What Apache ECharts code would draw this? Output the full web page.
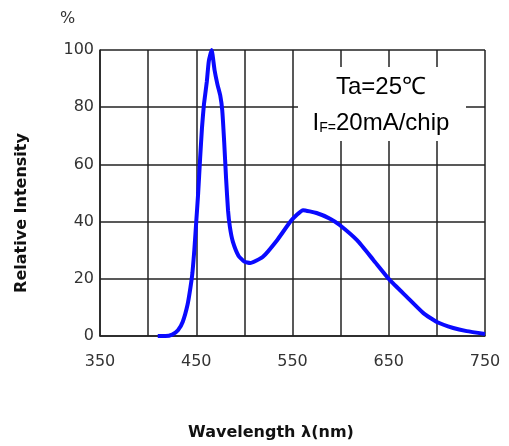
<!DOCTYPE html>
<html>
<head>
<meta charset="utf-8">
<script src="https://cdn.jsdelivr.net/npm/echarts@6/dist/echarts.min.js"></script>
<style>
  html, body { margin: 0; padding: 0; background: #fff; }
  #chart { width: 509px; height: 446px; }
</style>
</head>
<body>
<div id="chart"></div>
<script>
// wavelength (nm) and relative intensity (%)
var wavelength = [410, 418, 425, 431, 436, 441, 444, 446, 448, 450, 452, 454, 456, 458, 461, 463, 466, 469, 472, 475, 477, 479, 481, 483, 485, 488, 494, 500, 506, 519, 534, 549, 561, 575, 589, 599, 617, 634, 651, 669, 686, 700, 717, 731, 750];
var intensity  = [0, 0, 0.5, 2, 5, 11, 17, 22, 30, 40, 50, 62, 73, 81, 89, 96, 100, 93, 88, 84, 79, 68, 55, 44, 38, 33, 28, 26, 25.5, 27.6, 33.5, 40.5, 44, 43, 41, 38.8, 33.5, 26.6, 19.6, 13.6, 8, 4.9, 2.8, 1.7, 0.7];

var xTicks = [350, 450, 550, 650, 750];
var yTicks = [0, 20, 40, 60, 80, 100];

var points = wavelength.map(function (w, i) { return [w, intensity[i]]; });

var chart = echarts.init(document.getElementById('chart'));
var lineColor = '#222';
var tickFont = { fontFamily: 'DejaVu Sans', fontSize: 16, color: '#333' };

chart.setOption({
  animation: false,
  grid: { left: 100, right: 24, top: 50, bottom: 110 },
  xAxis: {
    type: 'value',
    min: 350,
    max: 750,
    interval: 50,
    axisLine: { show: true, lineStyle: { color: lineColor, width: 1.5 } },
    axisTick: { show: false },
    splitLine: { show: true, lineStyle: { color: lineColor, width: 1.5 } },
    axisLabel: Object.assign({
      margin: 18,
      formatter: function (v) { return xTicks.indexOf(v) >= 0 ? String(v) : ''; }
    }, tickFont)
  },
  yAxis: {
    type: 'value',
    min: 0,
    max: 100,
    interval: 20,
    axisLine: { show: true, lineStyle: { color: lineColor, width: 1.5 } },
    axisTick: { show: false },
    splitLine: { show: true, lineStyle: { color: lineColor, width: 1.5 } },
    axisLabel: Object.assign({
      margin: 6,
      formatter: function (v) { return yTicks.indexOf(v) >= 0 ? String(v) : ''; }
    }, tickFont)
  },
  series: [{
    type: 'line',
    data: points,
    smooth: 0.15,
    symbol: 'none',
    lineStyle: { color: '#0a0aff', width: 4 },
    z: 3
  }],
  graphic: [
    {
      type: 'text',
      left: 60,
      top: 11,
      style: { text: '%', fontFamily: 'DejaVu Sans', fontSize: 16, fill: '#333' }
    },
    {
      type: 'text',
      x: 22,
      y: 213,
      rotation: Math.PI / 2,
      style: {
        text: 'Relative Intensity',
        fontFamily: 'DejaVu Sans',
        fontWeight: 'bold',
        fontSize: 16,
        fill: '#111',
        align: 'center',
        verticalAlign: 'middle'
      }
    },
    {
      type: 'text',
      x: 271,
      y: 433,
      style: {
        text: 'Wavelength λ(nm)',
        fontFamily: 'DejaVu Sans',
        fontWeight: 'bold',
        fontSize: 16,
        fill: '#111',
        align: 'center',
        verticalAlign: 'middle'
      }
    },
    {
      type: 'rect',
      shape: { x: 298, y: 67, width: 168, height: 74 },
      style: { fill: '#fff' },
      z: 10
    },
    {
      type: 'text',
      x: 381,
      y: 87,
      style: {
        text: 'Ta=25℃',
        fontFamily: 'Liberation Sans',
        fontSize: 24,
        fill: '#000',
        align: 'center',
        verticalAlign: 'middle'
      },
      z: 11
    },
    {
      type: 'text',
      x: 381,
      y: 123,
      style: {
        text: '{a|I}{b|F=}{a|20mA/chip}',
        align: 'center',
        verticalAlign: 'middle',
        rich: {
          a: { fontFamily: 'Liberation Sans', fontSize: 24, fill: '#000', verticalAlign: 'bottom' },
          b: { fontFamily: 'Liberation Sans', fontSize: 14, fill: '#000', padding: [10, 0, 0, 0], verticalAlign: 'bottom' }
        }
      },
      z: 11
    }
  ]
});
</script>
</body>
</html>
